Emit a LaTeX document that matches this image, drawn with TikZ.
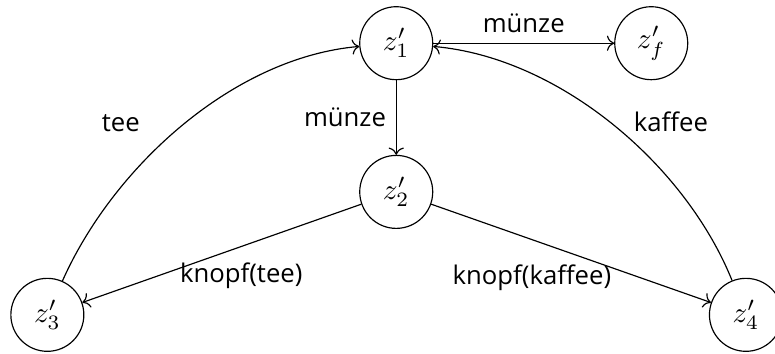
\documentclass[tikz,border=0pt]{standalone}
\usepackage{amsmath,amssymb}
\usepackage{fontspec}
\setmainfont{Open Sans}
\usepackage{xcolor}
\usepackage{tikz}
\usetikzlibrary{arrows.meta}
\tikzset{
  state/.style={draw, circle, line width=0.4pt, minimum size=25pt, inner sep=0pt},
  trans/.style={draw, line width=0.4pt, -{To}},
  lab/.style={font=\fontsize{8.8}{10}\selectfont},
}

\begin{document}
\begin{tikzpicture}
  \useasboundingbox (0,0) rectangle (9.33,4.26);
  \node[state] (z1) at (4.77,3.74) {$z'_1$};
  \node[state] (zf) at (7.84,3.74) {$z'_f$};
  \node[state] (z2) at (4.77,1.95) {$z'_2$};
  \node[state] (z3) at (0.57,0.47) {$z'_3$};
  \node[state] (z4) at (8.98,0.47) {$z'_4$};
  % coin moves
  \draw[trans] (z1) -- node[lab, midway, above] {münze} (zf);
  \draw[trans] (z1) -- node[lab, midway, left] {münze} (z2);
  % buttons
  \draw[trans] (z2) -- node[lab, pos=0.43, below=2pt] {knopf(tee)} (z3);
  \draw[trans] (z2) -- node[lab, pos=0.36, below=5pt] {knopf(kaffee)} (z4);
  % back to start
  \draw[trans] (z3) to[out=66, in=185, looseness=0.85] node[lab, pos=0.4, above left=1pt, yshift=2.5pt] {tee} (z1);
  \draw[trans] (z4) to[out=112, in=-5, looseness=0.85] node[lab, pos=0.4, above right=1pt, xshift=-7.5pt, yshift=2pt] {kaffee} (z1);
\end{tikzpicture}
\end{document}
